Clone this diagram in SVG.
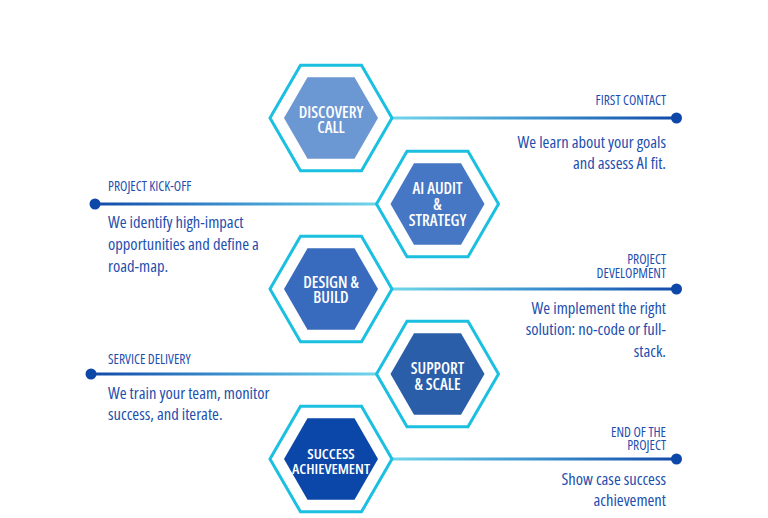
<svg xmlns="http://www.w3.org/2000/svg" width="768" height="518" viewBox="0 0 768 518">
<style>
text{font-family:"Open Sans","Liberation Sans Narrow","DejaVu Sans Condensed",sans-serif;font-stretch:condensed;}
.hx{fill:#fff;stroke:#1bbfe0;stroke-width:3;}
.ht{fill:#fff;font-size:16px;font-weight:600;text-anchor:middle;}
.lb{fill:#1d4fae;font-size:13.5px;font-weight:500;}
.bd{fill:#1d4fae;font-size:16.5px;font-weight:500;}
.r{text-anchor:end;}
.dot{fill:#0d47a8;}
</style>
<defs>
<polygon id="outer" points="-61,0 -30.5,-52.8 30.5,-52.8 61,0 30.5,52.8 -30.5,52.8"/>
<polygon id="inner" points="-47,0 -23.5,-40.7 23.5,-40.7 47,0 23.5,40.7 -23.5,40.7"/>
<linearGradient id="gR" x1="0" y1="0" x2="1" y2="0">
<stop offset="0" stop-color="#6fd6ea"/>
<stop offset="0.5" stop-color="#3d93cf"/>
<stop offset="1" stop-color="#124aa9"/>
</linearGradient>
<linearGradient id="gL" x1="0" y1="0" x2="1" y2="0">
<stop offset="0" stop-color="#124aa9"/>
<stop offset="0.5" stop-color="#3d93cf"/>
<stop offset="1" stop-color="#6fd6ea"/>
</linearGradient>
</defs>

<g id="connectors">
<rect x="392" y="116.5" width="284" height="3" fill="url(#gR)"/>
<circle class="dot" cx="676.5" cy="118" r="5.5"/>
<rect x="95" y="202.5" width="282" height="3" fill="url(#gL)"/>
<circle class="dot" cx="95" cy="204" r="5.5"/>
<rect x="392" y="287.5" width="284" height="3" fill="url(#gR)"/>
<circle class="dot" cx="676.5" cy="289" r="5.5"/>
<rect x="91" y="372.5" width="286" height="3" fill="url(#gL)"/>
<circle class="dot" cx="91" cy="374" r="5.5"/>
<rect x="392" y="457.5" width="284" height="3" fill="url(#gR)"/>
<circle class="dot" cx="676.5" cy="459" r="5.5"/>
</g>

<g id="node-discovery" transform="translate(331,118)">
<use href="#outer" class="hx"/>
<use href="#inner" fill="#6b97d3"/>
<text class="ht" x="0" y="-0.5">DISCOVERY</text>
<text class="ht" x="0" y="14.5">CALL</text>
</g>
<g id="node-audit" transform="translate(437.5,204)">
<use href="#outer" class="hx"/>
<use href="#inner" fill="#4677c5"/>
<text class="ht" x="0" y="-10">AI AUDIT</text>
<text class="ht" x="0" y="6">&amp;</text>
<text class="ht" x="0" y="21.5">STRATEGY</text>
</g>
<g id="node-design" transform="translate(331,289)">
<use href="#outer" class="hx"/>
<use href="#inner" fill="#386bbd"/>
<text class="ht" x="0" y="-1.5">DESIGN &amp;</text>
<text class="ht" x="0" y="13.5">BUILD</text>
</g>
<g id="node-support" transform="translate(437.5,374)">
<use href="#outer" class="hx"/>
<use href="#inner" fill="#2a5ea8"/>
<text class="ht" x="0" y="0">SUPPORT</text>
<text class="ht" x="0" y="16">&amp; SCALE</text>
</g>
<g id="node-success" transform="translate(331,459)">
<use href="#outer" class="hx"/>
<use href="#inner" fill="#0a47a9"/>
<text class="ht" x="0" y="-0.5" style="font-size:15px">SUCCESS</text>
<text class="ht" x="0" y="14.5" style="font-size:15px">ACHIEVEMENT</text>
</g>

<g id="label-first-contact">
<text class="lb r" x="666" y="105">FIRST CONTACT</text>
<text class="bd r" x="666" y="148">We learn about your goals</text>
<text class="bd r" x="666" y="169">and assess AI fit.</text>
</g>
<g id="label-kickoff">
<text class="lb" x="108" y="190.5">PROJECT KICK-OFF</text>
<text class="bd" x="108" y="228">We identify high-impact</text>
<text class="bd" x="108" y="250">opportunities and define a</text>
<text class="bd" x="108" y="272">road-map.</text>
</g>
<g id="label-development">
<text class="lb r" x="666" y="263.5">PROJECT</text>
<text class="lb r" x="666" y="277.5">DEVELOPMENT</text>
<text class="bd r" x="666" y="313.5">We implement the right</text>
<text class="bd r" x="666" y="335">solution: no-code or full-</text>
<text class="bd r" x="666" y="356.5">stack.</text>
</g>
<g id="label-delivery">
<text class="lb" x="108" y="363.5">SERVICE DELIVERY</text>
<text class="bd" x="108" y="399">We train your team, monitor</text>
<text class="bd" x="108" y="420">success, and iterate.</text>
</g>
<g id="label-end">
<text class="lb r" x="666" y="437">END OF THE</text>
<text class="lb r" x="666" y="449.5">PROJECT</text>
<text class="bd r" x="666" y="485">Show case success</text>
<text class="bd r" x="666" y="505.5">achievement</text>
</g>
</svg>
